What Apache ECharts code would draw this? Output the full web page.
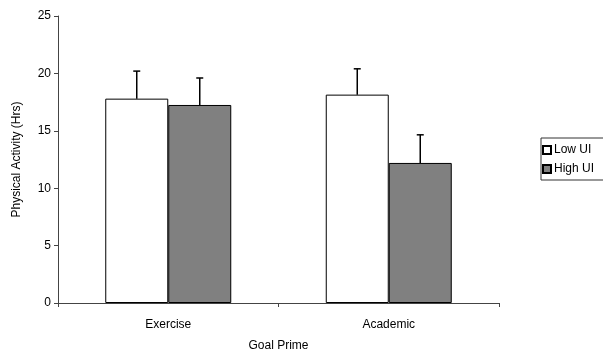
<!DOCTYPE html>
<html>
<head>
<meta charset="utf-8">
<script src="https://cdn.jsdelivr.net/npm/echarts@6/dist/echarts.min.js"></script>
<style>
  html, body { margin: 0; padding: 0; background: #fff; }
  #chart { width: 603px; height: 353px; }
</style>
</head>
<body>
<div id="chart"></div>
<script>
const categories = ['Exercise', 'Academic']
const lowUI = [17.8, 18.15]
const highUI = [17.25, 12.2]
const lowErr = [2.4, 2.25]
const highErr = [2.35, 2.45]
const yTicks = [0, 5, 10, 15, 20, 25]

const barWidth = 63
const font = 'Liberation Sans, Arial, sans-serif'

// 误差线（只画上半部分）
function errorBar(values, errs, shift) {
  return function (params, api) {
    const i = api.value(0)
    const base = api.coord([i, values[i]])
    const top = api.coord([i, values[i] + errs[i]])
    const x = base[0] + shift
    return {
      type: 'group',
      children: [
        { type: 'line', shape: { x1: x, y1: base[1], x2: x, y2: top[1] }, style: { stroke: '#000', lineWidth: 1.5 } },
        { type: 'line', shape: { x1: x - 3.5, y1: top[1], x2: x + 3.5, y2: top[1] }, style: { stroke: '#000', lineWidth: 1.5 } }
      ]
    }
  }
}

let myChart = echarts.init(document.getElementById('chart'))
let option = {
  animation: false,
  textStyle: { fontFamily: font },
  grid: { left: 58, top: 16, width: 441, height: 287, outerBoundsMode: 'none', containLabel: false },
  legend: {
    orient: 'vertical',
    left: 541,
    top: 138,
    padding: [6, 20, 5, 1],
    itemGap: 7,
    itemWidth: 8,
    itemHeight: 8,
    borderColor: '#333',
    borderWidth: 1,
    borderRadius: 0,
    backgroundColor: '#fff',
    textStyle: { fontSize: 12, color: '#000', fontFamily: font, padding: [0, 0, 0, -2] },
    data: [
      { name: 'Low UI', icon: 'rect' },
      { name: 'High UI', icon: 'rect' }
    ]
  },
  xAxis: {
    type: 'category',
    data: categories,
    name: 'Goal Prime',
    nameLocation: 'middle',
    nameGap: 37,
    nameTextStyle: { fontSize: 12, color: '#000' },
    axisLine: { lineStyle: { color: '#444', width: 1 } },
    axisTick: { show: true, length: 4, lineStyle: { color: '#444' } },
    axisLabel: { fontSize: 12, color: '#000', margin: 16 }
  },
  yAxis: {
    type: 'value',
    min: yTicks[0],
    max: yTicks[yTicks.length - 1],
    interval: 5,
    name: 'Physical Activity (Hrs)',
    nameLocation: 'middle',
    nameGap: 35,
    nameTextStyle: { fontSize: 12, color: '#000' },
    axisLine: { show: true, lineStyle: { color: '#444', width: 1 } },
    axisTick: { show: true, length: 4, lineStyle: { color: '#444' } },
    axisLabel: { fontSize: 12, color: '#000', margin: 7 },
    splitLine: { show: false }
  },
  series: [
    {
      name: 'Low UI',
      type: 'bar',
      barWidth: barWidth,
      barGap: '0%',
      data: lowUI,
      itemStyle: { color: '#fff', borderColor: '#000', borderWidth: 1 }
    },
    {
      name: 'High UI',
      type: 'bar',
      barWidth: barWidth,
      barGap: '0%',
      data: highUI,
      itemStyle: { color: '#808080', borderColor: '#000', borderWidth: 1 }
    },
    {
      type: 'custom',
      silent: true,
      z: 5,
      renderItem: errorBar(lowUI, lowErr, -barWidth / 2),
      data: categories.map((c, i) => [i])
    },
    {
      type: 'custom',
      silent: true,
      z: 5,
      renderItem: errorBar(highUI, highErr, barWidth / 2),
      data: categories.map((c, i) => [i])
    }
  ]
}
myChart.setOption(option)
</script>
</body>
</html>
